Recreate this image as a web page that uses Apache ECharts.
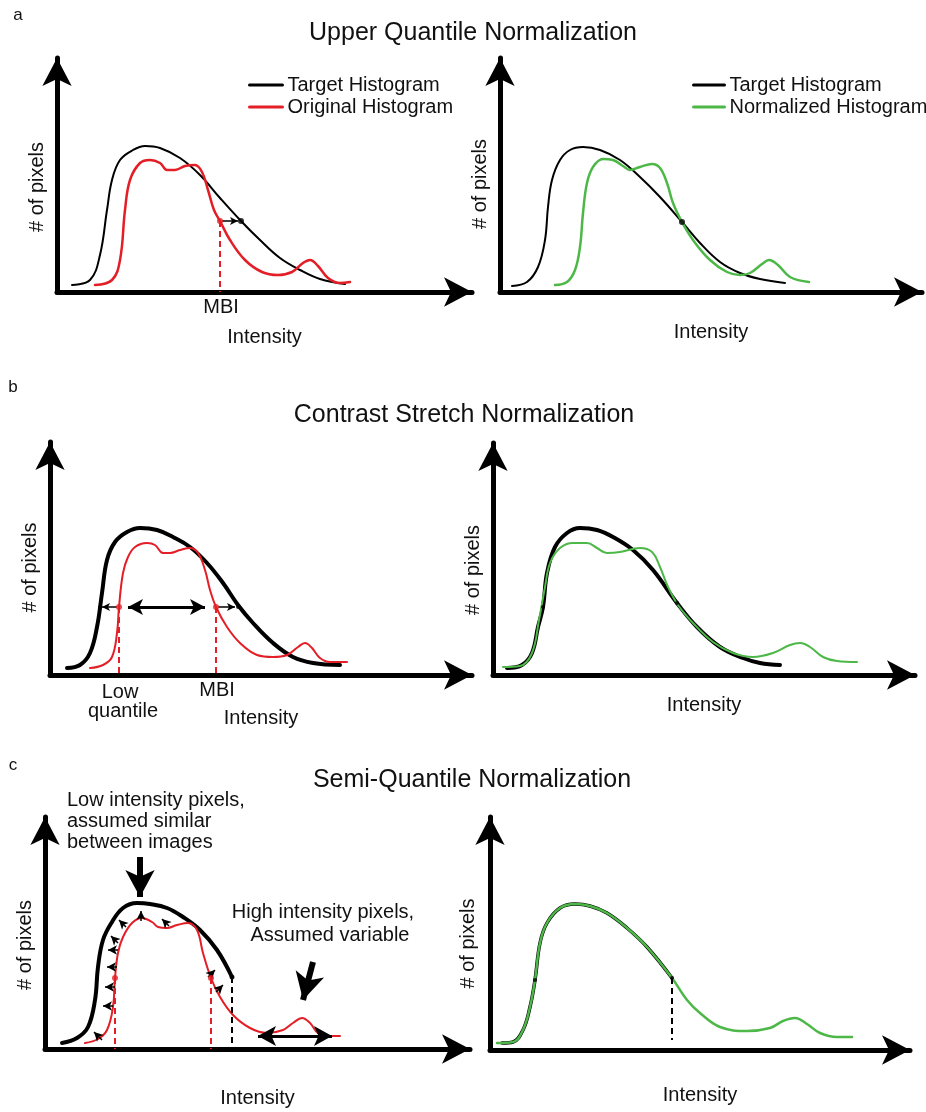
<!DOCTYPE html>
<html>
<head>
<meta charset="utf-8">
<script src="https://cdn.jsdelivr.net/npm/echarts@6/dist/echarts.min.js"></script>
<style>
  html, body { margin: 0; background: #fff; }
  #main { width: 926px; height: 1112px; }
</style>
</head>
<body>
<div id="main"></div>
<script>
// every point is [intensity, # of pixels], measured from each panel's origin
const aTarget = [[15,7],[33,12],[43,37],[50,82],[55,112],[63,132],[76,142],[88,146],[103,144],[123,134],[143,117],[163,94],[184,71],[203,52],[223,34],[243,22],[263,13],[288,8]];
const aOriginal = [[38,7],[55,12],[63,32],[68,82],[73,112],[83,129],[93,132],[103,129],[110,122],[118,122],[128,126],[138,127],[145,120],[151,102],[157,82],[163,71],[173,52],[188,32],[205,20],[221,17],[235,20],[246,29],[253,32],[261,26],[271,14],[283,9],[293,10]];
const aTargetR = [[12,6],[27,10],[38,25],[45,52],[48,85],[52,112],[60,132],[70,142],[83,145],[100,142],[120,132],[140,115],[160,95],[182,70],[200,49],[220,30],[240,19],[260,13],[285,9]];
const aNormalized = [[55,7],[67,10],[75,22],[80,45],[83,79],[87,109],[93,125],[103,133],[113,132],[123,126],[130,122],[140,125],[152,128],[160,124],[167,109],[173,89],[182,70],[193,52],[210,32],[227,20],[240,17],[250,19],[262,28],[269,32],[278,27],[290,15],[309,10]];

const bTarget = [[17,7],[30,10],[40,22],[47,48],[52,82],[57,115],[65,133],[77,143],[90,147],[107,145],[123,138],[140,128],[157,112],[173,92],[188,70],[203,52],[223,32],[243,18],[263,12],[290,10]];
const bOriginal = [[40,7],[53,10],[62,18],[67,42],[69,68],[73,102],[78,118],[85,128],[97,132],[105,130],[113,122],[120,122],[130,125],[140,127],[148,122],[155,105],[160,85],[166,68],[177,48],[190,32],[207,20],[223,18],[237,20],[248,28],[255,32],[262,27],[270,17],[280,13],[297,13]];
const bTargetR = [[14,7],[29,10],[39,22],[45,48],[50,68],[54,102],[62,128],[74,142],[87,147],[104,145],[120,138],[140,125],[160,105],[184,72],[204,48],[227,28],[250,17],[267,12],[287,10]];
const bNormalized = [[10,8],[27,9],[39,22],[46,55],[52,88],[57,112],[67,127],[80,132],[94,132],[104,127],[114,122],[127,123],[147,127],[159,123],[167,108],[175,88],[185,70],[200,52],[220,33],[240,22],[260,18],[280,22],[297,30],[307,32],[317,28],[330,18],[344,14],[364,13]];

const cTarget = [[17,6],[32,11],[43,22],[50,49],[53,82],[58,109],[67,127],[78,141],[92,146],[105,145],[122,141],[138,132],[155,119],[172,99],[187,72]];
const cOriginal = [[40,6],[53,10],[62,19],[68,42],[70,71],[73,96],[78,112],[87,126],[97,131],[107,127],[113,122],[122,121],[132,124],[143,126],[152,119],[158,96],[166,71],[175,52],[188,34],[205,21],[222,16],[238,19],[248,26],[257,31],[265,26],[273,16],[285,13],[295,13]];
const cTargetR = [[12,7],[23,8],[33,20],[40,43],[45,70],[50,107],[57,127],[70,142],[85,146],[100,144],[117,137],[137,122],[157,103],[182,72]];
const cNormalized = [[7,7],[23,8],[33,20],[40,43],[45,70],[50,107],[57,127],[70,142],[85,146],[100,144],[117,137],[137,122],[157,103],[182,72],[197,50],[210,37],[230,23],[257,19],[280,22],[293,29],[305,32],[317,26],[330,17],[347,13],[362,13]];

// markers
const aRedDots = [[163,71]];
const aBlackDots = [[184,71]];
const arBlackDots = [[182,70]];
const bRedDots = [[69,68],[166,68]];
const bBlackDots = [[50,68],[188,68]];
const brBlackDots = [[50,68],[184,72]];
const cRedDots = [[70,71],[166,71]];
const cBlackDots = [[187,72]];
const crBlackDots = [[45,70],[182,72]];

// [from, to] segments
const aShift = [[[165,71],[181,71]]];
const aMbiDrop = [[[163,71],[163,0]]];
const bShifts = [[[67,68],[52,68]], [[168,68],[185,68]]];
const bStretch = [[[78,68],[155,68]]];
const bDrops = [[[69,68],[69,0]], [[166,68],[166,0]]];
const cRedDrops = [[[70,71],[70,0]], [[166,71],[166,0]]];
const cBlackDrops = [[[187,72],[187,0]]];
const cRange = [[[213,13],[287,13]]];
const cCallouts = [[[95,192],[95,152]], [[268,87],[258,49]]];
const cChevrons = [
  [[57,9],[49,17]], [[68,43],[58,43]], [[70,62],[60,62]], [[72,82],[62,82]],
  [[73,99],[63,99]], [[73,106],[66,113]], [[81,122],[74,129]], [[96,128],[96,138]],
  [[124,123],[117,130]], [[163,72],[170,79]], [[171,57],[178,64]]
];
const crBlackDrops = [[[182,72],[182,10]]];

const RED = '#e41e26';
const GREEN = '#4db848';
const FONT = '"Liberation Sans", Arial, Helvetica, sans-serif';

// panel frames: origin at (left, top + height), arrow tips at the far ends
const panels = [
  { left: 57,  top: 58,  w: 415, h: 234, xGap: 35, yGap: 10, yPad: 24 },
  { left: 500, top: 58,  w: 422, h: 234, xGap: 30, yGap: 10, yPad: 18 },
  { left: 50,  top: 442, w: 422, h: 233, xGap: 33, yGap: 10, yPad: 18 },
  { left: 493, top: 443, w: 422, h: 232, xGap: 20, yGap: 10, yPad: 22 },
  { left: 45,  top: 817, w: 425, h: 232, xGap: 39, yGap: 10, yPad: 24 },
  { left: 490, top: 817, w: 420, h: 233, xGap: 35, yGap: 12, yPad: 20 }
];

const chart = echarts.init(document.getElementById('main'));

function curve(name, data, idx, color, width, z) {
  return {
    type: 'line', name: name, data: data, xAxisIndex: idx, yAxisIndex: idx,
    smooth: 0.4, symbol: 'none', showSymbol: false,
    lineStyle: { color: color, width: width, join: 'round', cap: 'round' },
    itemStyle: { color: color },
    silent: true, z: z
  };
}

function dots(data, idx, color, size) {
  return {
    type: 'scatter', data: data, xAxisIndex: idx, yAxisIndex: idx,
    symbol: 'circle', symbolSize: size, itemStyle: { color: color },
    silent: true, z: 6
  };
}

function segs(list, line, from, to, size) {
  return list.map(function (s) {
    return [
      { coord: s[0], symbol: from, symbolSize: size, lineStyle: line },
      { coord: s[1], symbol: to, symbolSize: size }
    ];
  });
}

function marks(idx, items) {
  return {
    type: 'line', data: [], xAxisIndex: idx, yAxisIndex: idx, silent: true, z: 5,
    markLine: {
      silent: true, animation: false, symbol: ['none', 'none'],
      label: { show: false }, emphasis: { disabled: true },
      lineStyle: { color: '#000', width: 1.5, type: 'solid' },
      data: items
    }
  };
}

const dashRed = { color: RED, width: 2, type: [6, 4] };
const dashBlack = { color: '#000', width: 2, type: [6, 4] };
const thinArrow = { color: '#000', width: 1.5, type: 'solid' };
const midArrow = { color: '#000', width: 3, type: 'solid' };
const bigArrow = { color: '#000', width: 6, type: 'solid' };

function label(text, x, y, size, align) {
  return {
    type: 'text', x: x, y: y, silent: true,
    style: {
      text: text, fill: '#111', font: size + 'px ' + FONT,
      align: align || 'center', verticalAlign: 'middle',
      textAlign: align || 'center', textVerticalAlign: 'middle'
    }
  };
}

const legendBase = {
  orient: 'vertical', top: 70, itemHeight: 14, itemGap: 2, selectedMode: false,
  itemStyle: { opacity: 0 },
  lineStyle: { width: 3 },
  textStyle: { fontSize: 20, fontFamily: FONT, color: '#111' }
};

const option = {
  backgroundColor: '#ffffff',
  animation: false,
  legend: [
    Object.assign({}, legendBase, { data: ['Target Histogram', 'Original Histogram'], left: 243, itemWidth: 33 }),
    Object.assign({}, legendBase, { data: ['Target Histogram', 'Normalized Histogram'], left: 687, itemWidth: 31 })
  ],
  grid: panels.map(function (p) {
    return { left: p.left, top: p.top, width: p.w, height: p.h, containLabel: false, outerBoundsMode: 'none' };
  }),
  xAxis: panels.map(function (p, i) {
    return {
      gridIndex: i, type: 'value', min: 0, max: p.w,
      axisLine: { show: true, onZero: false, symbol: ['none', 'arrow'], symbolSize: [22, 28],
        lineStyle: { color: '#000', width: 5 } },
      axisTick: { show: false }, axisLabel: { show: false }, splitLine: { show: false },
      name: 'Intensity', nameLocation: 'middle', nameGap: p.xGap,
      nameTextStyle: { fontSize: 20, fontFamily: FONT, color: '#111' }
    };
  }),
  yAxis: panels.map(function (p, i) {
    return {
      gridIndex: i, type: 'value', min: 0, max: p.h,
      axisLine: { show: true, onZero: false, symbol: ['none', 'arrow'], symbolSize: [22, 28],
        lineStyle: { color: '#000', width: 5 } },
      axisTick: { show: false }, axisLabel: { show: false }, splitLine: { show: false },
      name: '# of pixels', nameLocation: 'middle', nameRotate: 90, nameGap: p.yGap,
      nameTextStyle: { fontSize: 20, fontFamily: FONT, color: '#111', padding: [0, p.yPad, 0, 0] }
    };
  }),
  series: [
    // a: upper quantile
    curve('Target Histogram', aTarget, 0, '#000', 2, 2),
    curve('Original Histogram', aOriginal, 0, RED, 2.5, 3),
    marks(0, segs(aMbiDrop, dashRed, 'none', 'none', 6)
      .concat(segs(aShift, thinArrow, 'none', 'arrow', [6, 8]))),
    dots(aRedDots, 0, RED, 6),
    dots(aBlackDots, 0, '#000', 6),
    curve('Target Histogram', aTargetR, 1, '#000', 2, 2),
    curve('Normalized Histogram', aNormalized, 1, GREEN, 2.5, 3),
    dots(arBlackDots, 1, '#000', 6),
    // b: contrast stretch
    curve('Target Histogram', bTarget, 2, '#000', 4, 2),
    curve('Original Histogram', bOriginal, 2, RED, 2, 3),
    marks(2, segs(bDrops, dashRed, 'none', 'none', 6)
      .concat(segs(bShifts, thinArrow, 'none', 'arrow', [6, 8]))
      .concat(segs(bStretch, midArrow, 'arrow', 'arrow', [12, 15]))),
    dots(bRedDots, 2, RED, 6),
    dots(bBlackDots, 2, '#000', 4),
    curve('Target Histogram', bTargetR, 3, '#000', 4, 2),
    curve('Normalized Histogram', bNormalized, 3, GREEN, 2, 3),
    dots(brBlackDots, 3, '#000', 4),
    // c: semi-quantile
    curve('Target Histogram', cTarget, 4, '#000', 4, 2),
    curve('Original Histogram', cOriginal, 4, RED, 2, 3),
    marks(4, segs(cRedDrops, dashRed, 'none', 'none', 6)
      .concat(segs(cBlackDrops, dashBlack, 'none', 'none', 6))
      .concat(segs(cChevrons, thinArrow, 'none', 'arrow', [7, 9]))
      .concat(segs(cRange, midArrow, 'arrow', 'arrow', [15, 18]))
      .concat(segs(cCallouts, bigArrow, 'none', 'arrow', [22, 27]))),
    dots(cRedDots, 4, RED, 6),
    dots(cBlackDots, 4, '#000', 5),
    curve('Target Histogram', cTargetR, 5, '#000', 3.5, 2),
    curve('Normalized Histogram', cNormalized, 5, GREEN, 2.5, 3),
    marks(5, segs(crBlackDrops, dashBlack, 'none', 'none', 6)),
    dots(crBlackDots, 5, '#000', 4)
  ],
  graphic: [
    label('a', 18, 15, 17),
    label('Upper Quantile Normalization', 473, 33, 25),
    label('MBI', 221, 307, 20),
    label('b', 13, 387, 17),
    label('Contrast Stretch Normalization', 464, 415, 25),
    label('Low', 120, 692, 20),
    label('quantile', 123, 711, 20),
    label('MBI', 217, 690, 20),
    label('c', 13, 765, 17),
    label('Semi-Quantile Normalization', 472, 780, 25),
    label('Low intensity pixels,', 67, 800, 20, 'left'),
    label('assumed similar', 67, 821, 20, 'left'),
    label('between images', 67, 842, 20, 'left'),
    label('High intensity pixels,', 323, 912, 20),
    label('Assumed variable', 330, 935, 20)
  ]
};

chart.setOption(option);
</script>
</body>
</html>
